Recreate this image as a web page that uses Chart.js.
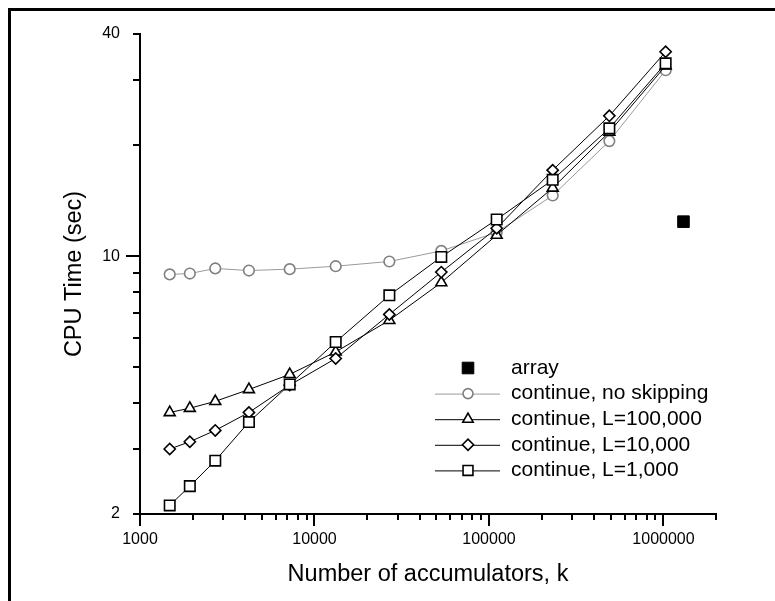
<!DOCTYPE html>
<html>
<head>
<meta charset="utf-8">
<script src="https://cdn.jsdelivr.net/npm/chart.js@4/dist/chart.umd.min.js"></script>
<style>
  html, body { margin: 0; padding: 0; background: #fff; }
  #chart { display: block; }
</style>
</head>
<body>
<canvas id="chart" width="775" height="601"></canvas>
<script>
// Number of accumulators (x) and CPU time in seconds (y)
const kValues = [1480, 1930, 2700, 4210, 7210, 13230, 26850, 53300, 110700, 231800, 489500, 1029000];
const noSkipping = [8.92, 8.97, 9.26, 9.14, 9.22, 9.39, 9.67, 10.33, 11.6, 14.6, 20.5, 31.9];
const L100000 = [3.77, 3.87, 4.04, 4.35, 4.78, 5.50, 6.70, 8.48, 11.4, 15.3, 21.7, 32.8];
const L10000 = [3.00, 3.14, 3.37, 3.77, 4.47, 5.28, 6.95, 9.05, 11.9, 17.1, 24.0, 35.8];
const L1000 = [2.11, 2.38, 2.79, 3.55, 4.49, 5.85, 7.83, 9.95, 12.57, 16.1, 22.2, 33.3];
const arrayK = [1302000];
const arrayTime = [12.4];

// Tick values
const xMajor = [1000, 10000, 100000, 1000000];
const xMinor = [2000, 3000, 4000, 5000, 6000, 7000, 8000, 9000,
                20000, 30000, 40000, 50000, 60000, 70000, 80000, 90000,
                200000, 300000, 400000, 500000, 600000, 700000, 800000, 900000, 2000000];
const yMajor = [2, 10, 40];
const yMinor = [3, 4, 5, 6, 7, 8, 9, 20, 30];

const FONT = "'Liberation Sans', Arial, Helvetica, sans-serif";

const toPoints = (xs, ys) => xs.map((x, i) => ({ x: x, y: ys[i] }));

// tick marks + outer frame + legend drawn on top of the chart
const decorations = {
    id: 'decorations',
    afterDraw(chart) {
        const ctx = chart.ctx;
        const xs = chart.scales.x;
        const ys = chart.scales.y;
        const area = chart.chartArea;
        ctx.save();

        // frame
        ctx.strokeStyle = '#000';
        ctx.lineWidth = 3;
        ctx.beginPath();
        ctx.moveTo(9.5, 601);
        ctx.lineTo(9.5, 9.5);
        ctx.lineTo(775, 9.5);
        ctx.stroke();

        // ticks
        ctx.lineWidth = 2;
        ctx.beginPath();
        xMajor.concat(xMinor).forEach(v => {
            const px = Math.round(xs.getPixelForValue(v));
            const len = xMajor.includes(v) ? 12 : 6;
            ctx.moveTo(px, area.bottom);
            ctx.lineTo(px, area.bottom + len);
        });
        yMajor.concat(yMinor).forEach(v => {
            const py = Math.round(ys.getPixelForValue(v));
            const len = v === 10 ? 14 : 7;
            ctx.moveTo(area.left, py);
            ctx.lineTo(area.left - len, py);
        });
        ctx.stroke();

        // legend
        const lx = area.left + 295;
        const ly = area.top + 334;
        const rowH = 25.6;
        ctx.font = '21px ' + FONT;
        ctx.textBaseline = 'middle';
        ctx.textAlign = 'left';
        chart.data.datasets.forEach((ds, i) => {
            const y = ly + i * rowH;
            if (ds.showLine) {
                ctx.strokeStyle = ds.borderColor;
                ctx.lineWidth = 1;
                ctx.beginPath();
                ctx.moveTo(lx, y + 0.5);
                ctx.lineTo(lx + 65, y + 0.5);
                ctx.stroke();
            }
            ctx.fillStyle = ds.pointBackgroundColor;
            ctx.strokeStyle = ds.pointBorderColor;
            ctx.lineWidth = ds.pointBorderWidth;
            Chart.helpers.drawPoint(ctx, {
                pointStyle: ds.pointStyle,
                radius: ds.legendRadius,
                rotation: 0,
                borderWidth: ds.pointBorderWidth
            }, lx + 33, y);
            ctx.fillStyle = '#000';
            ctx.fillText(ds.label, lx + 76, y);
        });
        ctx.restore();
    }
};

new Chart(document.getElementById('chart'), {
    type: 'scatter',
    data: {
        datasets: [
            {
                label: 'array',
                data: toPoints(arrayK, arrayTime),
                showLine: false,
                pointStyle: 'rect',
                pointRadius: 8.2,
                legendRadius: 8.2,
                pointBackgroundColor: '#000',
                pointBorderColor: '#000',
                pointBorderWidth: 1,
                order: 0
            },
            {
                label: 'continue, no skipping',
                data: toPoints(kValues, noSkipping),
                showLine: true,
                borderColor: '#9a9a9a',
                borderWidth: 1,
                pointStyle: 'circle',
                pointRadius: 5.3,
                legendRadius: 5,
                pointBackgroundColor: '#fff',
                pointBorderColor: '#808080',
                pointBorderWidth: 1.6,
                order: 4
            },
            {
                label: 'continue, L=100,000',
                data: toPoints(kValues, L100000),
                showLine: true,
                borderColor: '#000',
                borderWidth: 1,
                pointStyle: 'triangle',
                pointRadius: 6.3,
                legendRadius: 6,
                pointBackgroundColor: '#fff',
                pointBorderColor: '#000',
                pointBorderWidth: 1.6,
                order: 3
            },
            {
                label: 'continue, L=10,000',
                data: toPoints(kValues, L10000),
                showLine: true,
                borderColor: '#000',
                borderWidth: 1,
                pointStyle: 'rectRot',
                pointRadius: 5.6,
                legendRadius: 5.6,
                pointBackgroundColor: '#fff',
                pointBorderColor: '#000',
                pointBorderWidth: 1.6,
                order: 2
            },
            {
                label: 'continue, L=1,000',
                data: toPoints(kValues, L1000),
                showLine: true,
                borderColor: '#000',
                borderWidth: 1,
                pointStyle: 'rect',
                pointRadius: 7.4,
                legendRadius: 7,
                pointBackgroundColor: '#fff',
                pointBorderColor: '#000',
                pointBorderWidth: 1.6,
                order: 1
            }
        ]
    },
    options: {
        responsive: false,
        animation: false,
        events: [],
        clip: false,
        layout: { padding: { top: 34, right: 59, left: 0, bottom: 0 } },
        plugins: {
            legend: { display: false },
            tooltip: { enabled: false }
        },
        scales: {
            x: {
                type: 'logarithmic',
                min: 1000,
                max: 2000000,
                afterBuildTicks: s => { s.ticks = xMajor.concat(xMinor).map(v => ({ value: v })); },
                afterFit: s => { s.height = 87; },
                grid: { display: false, drawTicks: false },
                border: { display: true, color: '#000', width: 2 },
                ticks: {
                    autoSkip: false,
                    maxRotation: 0,
                    padding: 16,
                    color: '#000',
                    font: { family: FONT, size: 16 },
                    callback: v => xMajor.includes(v) ? String(v) : ''
                },
                title: {
                    display: true,
                    text: 'Number of accumulators, k',
                    color: '#000',
                    font: { family: FONT, size: 23.5 },
                    padding: { top: 0, bottom: 12 }
                }
            },
            y: {
                type: 'logarithmic',
                min: 2,
                max: 40,
                afterBuildTicks: s => { s.ticks = yMajor.concat(yMinor).map(v => ({ value: v })); },
                afterFit: s => { s.width = 140; },
                grid: { display: false, drawTicks: false },
                border: { display: true, color: '#000', width: 2 },
                ticks: {
                    autoSkip: false,
                    padding: 20,
                    color: '#000',
                    font: { family: FONT, size: 16 },
                    callback: v => yMajor.includes(v) ? String(v) : ''
                },
                title: {
                    display: true,
                    text: 'CPU Time (sec)',
                    color: '#000',
                    font: { family: FONT, size: 23.5 },
                    padding: { top: 60, bottom: 0 }
                }
            }
        }
    },
    plugins: [decorations]
});
</script>
</body>
</html>
